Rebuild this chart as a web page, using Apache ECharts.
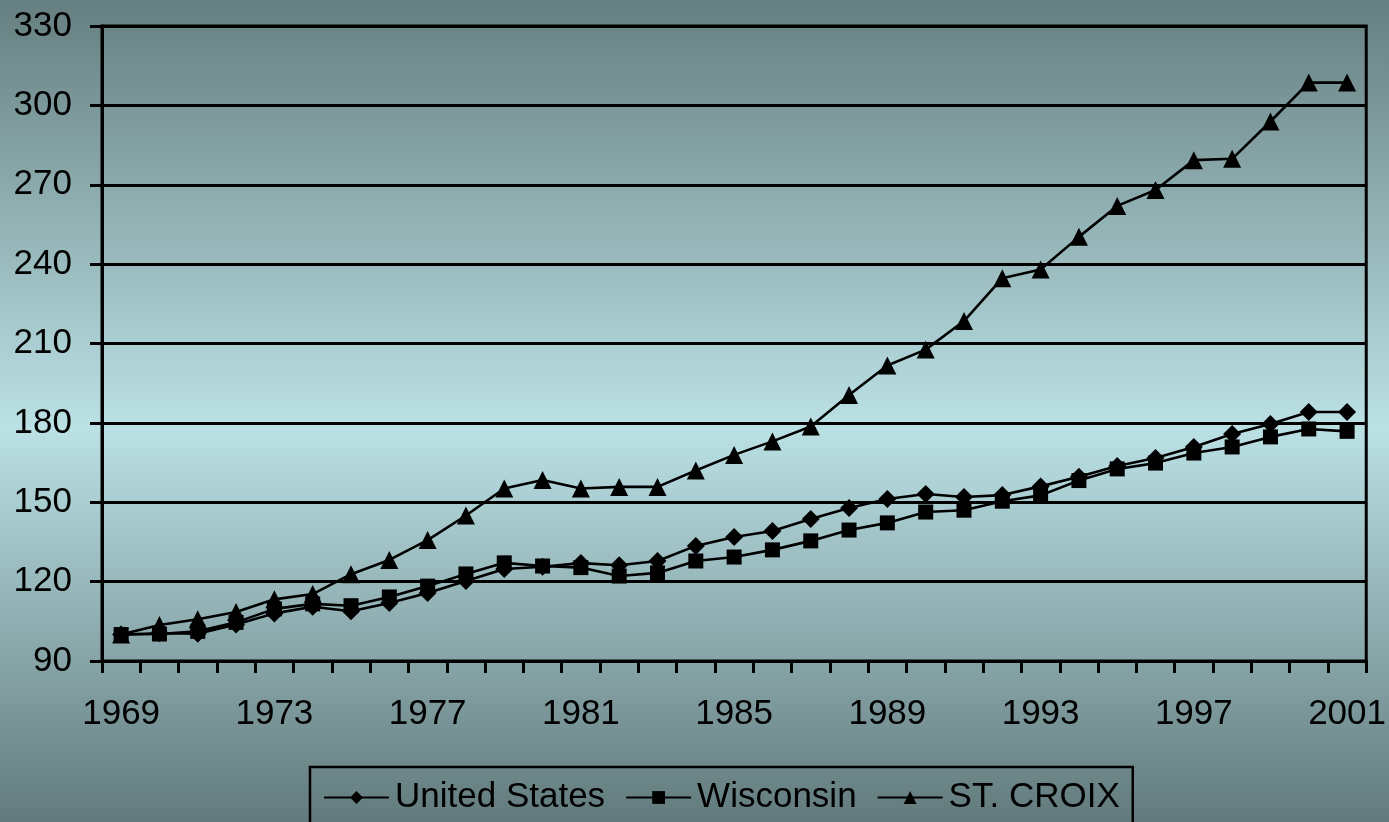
<!DOCTYPE html>
<html>
<head>
<meta charset="utf-8">
<script src="https://cdn.jsdelivr.net/npm/echarts@6/dist/echarts.min.js"></script>
<style>
  html, body { margin: 0; padding: 0; }
  #chart { width: 1389px; height: 822px; }
</style>
</head>
<body>
<div id="chart"></div>
<script>
// Income index, 1969 = 100
const years = [];
for (let y = 1969; y <= 2001; y++) years.push(String(y));

const unitedStates = [100, 100.5, 100.3, 103.8, 108, 110.5, 108.8, 111.9, 115.7, 120.2,
  124.8, 125.6, 127, 126.2, 127.8, 133.5, 136.9, 139.1, 143.7, 147.8,
  151.2, 153.1, 152, 152.7, 156, 159.6, 163.7, 166.7, 170.9, 175.8,
  179.6, 184.1, 184.1];

const wisconsin = [100, 100.2, 101.2, 104.6, 109.7, 111.6, 110.9, 114.2, 118.3, 122.9,
  127.1, 125.9, 125.3, 122.1, 123.3, 127.8, 129.3, 132, 135.4, 139.5,
  142.2, 146.3, 147, 150.4, 152.6, 158.2, 162.6, 164.8, 168.6, 170.9,
  174.7, 177.7, 176.8];

const stCroix = [100, 103.6, 105.8, 108.5, 113.3, 115.3, 122.8, 128.2, 135.7, 145,
  155.2, 158.4, 155.2, 155.8, 155.8, 162, 167.9, 173, 178.6, 190.5,
  201.7, 207.7, 218.5, 234.7, 238, 250.3, 262, 268, 279.3, 279.8,
  293.9, 308.6, 308.6];

const FONT = '"Liberation Sans", Arial, sans-serif';

function lineSeries(name, data, symbol, size) {
  return {
    name: name,
    type: 'line',
    data: data,
    symbol: symbol,
    symbolSize: size,
    itemStyle: { color: '#000' },
    lineStyle: { color: '#000', width: 2.6 },
    emphasis: { disabled: true }
  };
}

const chart = echarts.init(document.getElementById('chart'));
chart.setOption({
  animation: false,
  backgroundColor: {
    type: 'linear', x: 0, y: 0, x2: 0, y2: 1,
    colorStops: [
      { offset: 0, color: '#667f80' },
      { offset: 0.52, color: '#bbe1e5' },
      { offset: 1, color: '#627a7c' }
    ]
  },
  grid: {
    left: 102, right: 22, top: 26, bottom: 161,
    show: true, borderColor: '#000', borderWidth: 3,
    backgroundColor: 'transparent'
  },
  legend: {
    left: 310, top: 767,
    padding: [13, 13, 14, 13],
    borderColor: '#000', borderWidth: 2.5,
    itemWidth: 65, itemHeight: 16, itemGap: 20,
    textStyle: { fontFamily: FONT, fontSize: 35, color: '#000', padding: [0, 0, 0, 1] },
    data: ['United States', 'Wisconsin', 'ST. CROIX']
  },
  xAxis: {
    type: 'category',
    data: years,
    boundaryGap: true,
    axisLine: { lineStyle: { color: '#000', width: 3 } },
    axisTick: { show: true, interval: 0, length: 12, lineStyle: { color: '#000', width: 3 } },
    axisLabel: { interval: 3, margin: 36, fontFamily: FONT, fontSize: 35, color: '#000' },
    splitLine: { show: false }
  },
  yAxis: {
    type: 'value',
    min: 90, max: 330, interval: 30,
    axisLine: { show: true, lineStyle: { color: '#000', width: 3 } },
    axisTick: { show: true, length: 12, lineStyle: { color: '#000', width: 3 } },
    axisLabel: { margin: 30, fontFamily: FONT, fontSize: 35, color: '#000' },
    splitLine: { show: true, lineStyle: { color: '#000', width: 3 } }
  },
  series: [
    lineSeries('United States', unitedStates, 'diamond', 18),
    lineSeries('Wisconsin', wisconsin, 'rect', 15),
    lineSeries('ST. CROIX', stCroix, 'triangle', 18)
  ]
});
</script>
</body>
</html>
